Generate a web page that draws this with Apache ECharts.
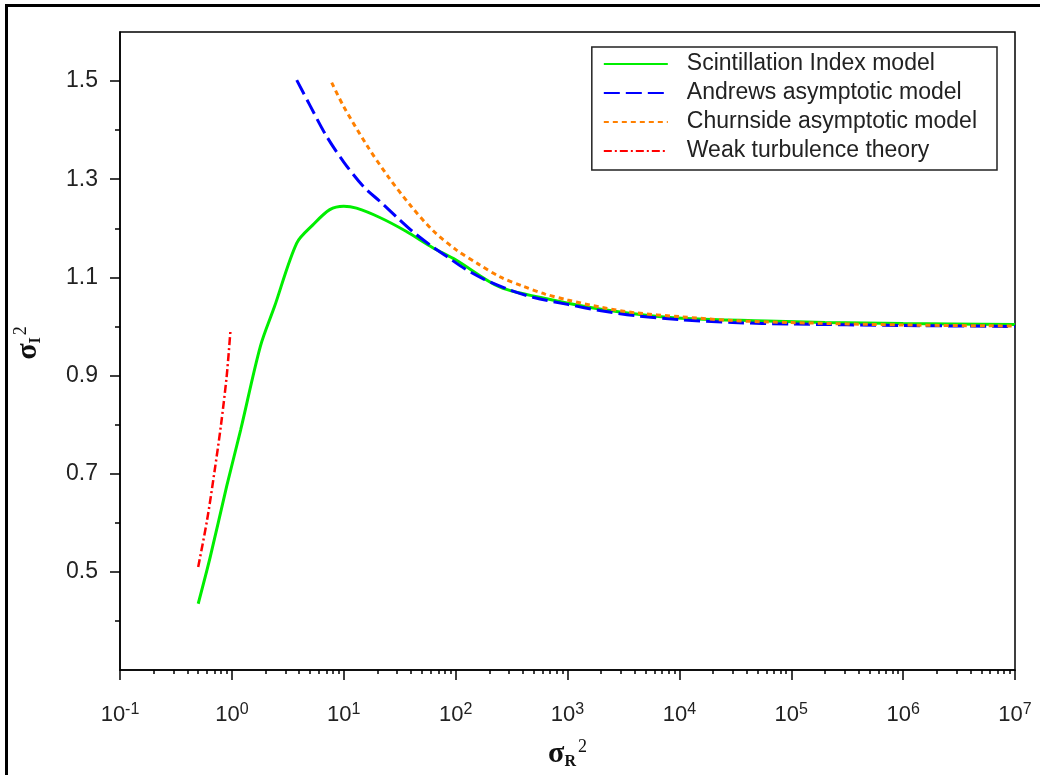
<!DOCTYPE html>
<html>
<head>
<meta charset="utf-8">
<script src="https://cdn.jsdelivr.net/npm/echarts@6/dist/echarts.min.js"></script>
<style>
html,body{margin:0;padding:0;background:#fff;}
#chart{width:1040px;height:775px;}
</style>
</head>
<body>
<div id="chart"></div>
<script>
// ---- data ----
const seriesNames = ['Scintillation Index model', 'Andrews asymptotic model', 'Churnside asymptotic model', 'Weak turbulence theory'];

const scintillationIndex = [
  [0.5, 0.435], [0.64, 0.53], [0.9, 0.675], [1.2, 0.79], [1.8, 0.96], [2.4, 1.04],
  [3.8, 1.17], [5.3, 1.207], [7.5, 1.238], [10, 1.245], [13, 1.241], [21, 1.222],
  [36, 1.194], [63, 1.16], [100, 1.136], [250, 1.08], [700, 1.055], [2000, 1.035],
  [5500, 1.022], [15000, 1.015], [60000, 1.011], [200000, 1.008], [1000000, 1.006], [10000000, 1.004]
];

const andrews = [
  [3.8, 1.502], [5, 1.45], [7, 1.388], [10, 1.335], [15, 1.285], [21, 1.255], [30, 1.222],
  [42, 1.192], [60, 1.165], [83, 1.143], [120, 1.118], [180, 1.096], [300, 1.075], [500, 1.059],
  [1000, 1.045], [2000, 1.032], [4000, 1.022], [10000, 1.014], [30000, 1.008], [100000, 1.005],
  [1000000, 1.002], [10000000, 1.0]
];

const churnside = [
  [7.8, 1.497], [10, 1.448], [16, 1.37], [25, 1.305], [40, 1.245], [63, 1.195], [100, 1.157],
  [160, 1.127], [250, 1.101], [400, 1.082], [630, 1.066], [1000, 1.054], [2000, 1.039],
  [4000, 1.028], [10000, 1.02], [30000, 1.012], [100000, 1.008], [1000000, 1.003], [10000000, 1.001]
];

const weakTurbulence = [
  [0.5, 0.51], [0.6, 0.605], [0.7, 0.705], [0.8, 0.8], [0.9, 0.9], [0.97, 0.99]
];

const xTickExponents = ['-1', '0', '1', '2', '3', '4', '5', '6', '7'];
const yTickValues = [0.5, 0.7, 0.9, 1.1, 1.3, 1.5];
const yMinorTickValues = [0.4, 0.6, 0.8, 1.0, 1.2, 1.4];

// ---- chart ----
const chart = echarts.init(document.getElementById('chart'), null, {renderer: 'canvas'});
const txtFont = "'Liberation Sans', Arial, sans-serif";
const serifFont = "'Liberation Serif', 'Times New Roman', serif";

const titleRich = {
  s: {fontFamily: serifFont, fontWeight: 'bold', fontSize: 30, color: '#111'},
  sub: {fontFamily: serifFont, fontWeight: 'bold', fontSize: 16, color: '#111', verticalAlign: 'bottom', padding: [12, 0, 0, 0]},
  sup: {fontFamily: serifFont, fontSize: 18, color: '#111', verticalAlign: 'top', padding: [0, 0, 14, 2]}
};

const option = {
  backgroundColor: '#fff',
  animation: false,
  graphic: [{
    type: 'rect', z: 100, silent: true,
    shape: {x: 6.5, y: 5.5, width: 1100, height: 900},
    style: {fill: 'none', stroke: '#000', lineWidth: 3}
  }],
  grid: {left: 120, top: 32, right: 25, bottom: 103, show: true, borderColor: '#000', borderWidth: 1.5, backgroundColor: '#fff'},
  legend: {
    orient: 'vertical', right: 43, top: 47,
    data: seriesNames,
    backgroundColor: '#fff',
    borderColor: '#222', borderWidth: 1.5,
    padding: [5, 20, 7, 11],
    itemWidth: 64, itemHeight: 14, itemGap: 5,
    itemStyle: {opacity: 0},
    textStyle: {fontFamily: txtFont, fontSize: 23, color: '#222', lineHeight: 24, padding: [0, 0, 0, 14]}
  },
  xAxis: {
    type: 'log', logBase: 10, min: 0.1, max: 10000000, splitNumber: 8,
    name: '{s|σ}{sub|R}{sup|2}', nameLocation: 'middle', nameGap: 68,
    nameTextStyle: {rich: titleRich},
    axisLine: {show: true, lineStyle: {color: '#000', width: 1.5}},
    axisTick: {show: true, length: 10, lineStyle: {color: '#000', width: 1.5}},
    minorTick: {show: true, splitNumber: 9, length: 4, lineStyle: {color: '#000', width: 1.5}},
    splitLine: {show: false},
    axisLabel: {
      margin: 32,
      formatter: function (v) {
        const e = String(Math.round(Math.log10(v)));
        return xTickExponents.indexOf(e) >= 0 ? '{b|10}{sup|' + e + '}' : '';
      },
      rich: {
        b: {fontFamily: txtFont, fontSize: 22, color: '#222', lineHeight: 26},
        sup: {fontFamily: txtFont, fontSize: 16, color: '#222', verticalAlign: 'top', lineHeight: 14}
      }
    }
  },
  yAxis: [
    {
      type: 'value', min: 0.3, max: 1.6,
      name: '{s|σ}{sub|I}{sup|2}', nameLocation: 'middle', nameGap: 76, nameRotate: 90,
      nameTextStyle: {rich: titleRich, padding: [0, 0, 0, 16]},
      axisLine: {show: true, lineStyle: {color: '#000', width: 1.5}},
      axisTick: {show: true, length: 10, customValues: yTickValues, lineStyle: {color: '#000', width: 1.5}},
      axisLabel: {
        margin: 22, customValues: yTickValues,
        fontFamily: txtFont, fontSize: 23, color: '#222',
        formatter: function (v) { return v.toFixed(1); }
      },
      splitLine: {show: false}
    },
    {
      type: 'value', min: 0.3, max: 1.6, position: 'left',
      axisLine: {show: false},
      axisTick: {show: true, length: 5, customValues: yMinorTickValues, lineStyle: {color: '#000', width: 1.5}},
      axisLabel: {show: false},
      splitLine: {show: false}
    }
  ],
  series: [
    {
      name: seriesNames[0], type: 'line', data: scintillationIndex, yAxisIndex: 0,
      showSymbol: false, symbol: 'none', symbolSize: 0, smooth: 0.3, z: 3,
      lineStyle: {color: '#00ee00', width: 3}, itemStyle: {color: '#00ee00'}
    },
    {
      name: seriesNames[1], type: 'line', data: andrews, yAxisIndex: 0,
      showSymbol: false, symbol: 'none', symbolSize: 0, smooth: 0.3, z: 4,
      lineStyle: {color: '#0000ff', width: 3, type: [16, 6]}, itemStyle: {color: '#0000ff'}
    },
    {
      name: seriesNames[2], type: 'line', data: churnside, yAxisIndex: 0,
      showSymbol: false, symbol: 'none', symbolSize: 0, smooth: 0.3, z: 5,
      lineStyle: {color: '#ff8000', width: 3, type: [5, 4]}, itemStyle: {color: '#ff8000'}
    },
    {
      name: seriesNames[3], type: 'line', data: weakTurbulence, yAxisIndex: 0,
      showSymbol: false, symbol: 'none', symbolSize: 0, smooth: 0.3, z: 6,
      lineStyle: {color: '#ff0000', width: 2.5, type: [8, 3, 2, 3]}, itemStyle: {color: '#ff0000'}
    }
  ]
};
chart.setOption(option);
</script>
</body>
</html>
